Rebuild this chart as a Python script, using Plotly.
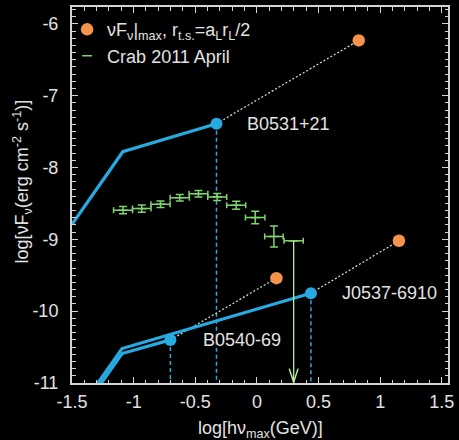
import plotly.graph_objects as go

# --- spectra: log photon energy (GeV) vs log nuFnu, one broken power law per pulsar
crab_spec_x = [-1.5, -1.088, -0.328]
crab_spec_y = [-8.79, -7.78, -7.39]
j0537_spec_x = [-1.372, -1.094, 0.438]
j0537_spec_y = [-11.2, -10.52, -9.75]
b0540_spec_x = [-1.343, -1.094, -0.702]
b0540_spec_y = [-11.2, -10.59, -10.40]

# --- maximum nuFnu for r_t.s. = a_L r_L / 2
pulsar_names = ["B0531+21", "J0537-6910", "B0540-69"]
max_x = [0.826, 1.152, 0.158]
max_y = [-6.23, -9.02, -9.54]

# --- Crab 2011 April flare data
crab_x = [-1.086, -0.934, -0.782, -0.626, -0.474, -0.322, -0.168, -0.014, 0.138, 0.298]
crab_y = [-8.594, -8.572, -8.511, -8.420, -8.364, -8.410, -8.525, -8.697, -8.960, -9.019]
crab_xerr = [0.077, 0.075, 0.078, 0.078, 0.076, 0.077, 0.077, 0.079, 0.075, 0.078]
crab_yerr = [0.05, 0.05, 0.045, 0.045, 0.045, 0.05, 0.055, 0.087, 0.145, 0.0]
crab_upper_limit = [False] * 9 + [True]

# --- axes
x_range = [-1.5, 1.55]
y_range = [-11, -5.765]
x_ticks = [-1.5, -1, -0.5, 0, 0.5, 1, 1.5]
x_ticktext = ["-1.5", "-1", "-0.5", "0", "0.5", "1", "1.5"]
y_ticks = [-11, -10, -9, -8, -7, -6]
y_ticktext = ["-11", "-10", "-9", "-8", "-7", "-6"]

BLUE = "#27aae1"
DASH_BLUE = "#34a9d2"
ORANGE = "#f5924c"
GREEN = "#80d46e"
PALE_GREEN = "#b4ec9e"
DOTTED = "#d5e8c8"
TEXT = "#e2e2e2"
FONT = "Liberation Sans, Arial, sans-serif"

fig = go.Figure()

spectra = [
    (crab_spec_x, crab_spec_y),
    (j0537_spec_x, j0537_spec_y),
    (b0540_spec_x, b0540_spec_y),
]

# vertical dashed drops from each spectral peak to the energy axis
for sx, sy in spectra:
    fig.add_trace(go.Scatter(
        x=[sx[-1], sx[-1]], y=[sy[-1], y_range[0]], mode="lines",
        line=dict(color=DASH_BLUE, width=1.5, dash="4px,3px"),
        showlegend=False, hoverinfo="skip"))

# dotted connectors from each spectral peak to its maximum
for (sx, sy), mx, my in zip(spectra, max_x, max_y):
    fig.add_trace(go.Scatter(
        x=[sx[-1], mx], y=[sy[-1], my], mode="lines",
        line=dict(color=DOTTED, width=1.2, dash="2px,2px"),
        showlegend=False, hoverinfo="skip"))

# broken power-law spectra
for sx, sy in spectra:
    fig.add_trace(go.Scatter(
        x=sx, y=sy, mode="lines",
        line=dict(color=BLUE, width=3.2),
        showlegend=False, hoverinfo="skip"))

# spectral peaks
fig.add_trace(go.Scatter(
    x=[s[0][-1] for s in spectra], y=[s[1][-1] for s in spectra],
    mode="markers", marker=dict(color=BLUE, size=12),
    showlegend=False, hoverinfo="skip"))

# maximum nuFnu points
fig.add_trace(go.Scatter(
    x=max_x, y=max_y, mode="markers",
    marker=dict(color=ORANGE, size=12.5),
    name="νF<sub>ν</sub>|<sub>max</sub>, r<sub>t.s.</sub>=a<sub>L</sub>r<sub>L</sub>/2",
    legendrank=1))

# Crab flare points with energy-bin and flux error bars
fig.add_trace(go.Scatter(
    x=crab_x, y=crab_y, mode="markers",
    marker=dict(symbol="line-ew", size=7, color=GREEN,
                line=dict(color=GREEN, width=1.5)),
    error_x=dict(type="data", array=crab_xerr, color=GREEN, thickness=1.5, width=3),
    error_y=dict(type="data", array=crab_yerr, color=GREEN, thickness=1.5, width=4),
    name="Crab 2011 April", legendrank=2))

# upper limit: drop line ending in an open arrowhead at the axis
for ux, uy, ul in zip(crab_x, crab_y, crab_upper_limit):
    if not ul:
        continue
    fig.add_trace(go.Scatter(
        x=[ux, ux], y=[uy, y_range[0]], mode="lines",
        line=dict(color=PALE_GREEN, width=1.3),
        showlegend=False, hoverinfo="skip"))
    fig.add_trace(go.Scatter(
        x=[ux - 0.036, ux, ux + 0.036], y=[y_range[0] + 0.2, y_range[0] + 0.01, y_range[0] + 0.2],
        mode="lines", line=dict(color=PALE_GREEN, width=1.5),
        showlegend=False, hoverinfo="skip"))

# pulsar names next to their spectral peaks
label_dx = [0.584, 0.634, 0.582]
for name, (sx, sy), dx in zip(pulsar_names, spectra, label_dx):
    fig.add_annotation(x=sx[-1] + dx, y=sy[-1], text=name, showarrow=False,
                       font=dict(size=18, color=TEXT, family=FONT),
                       xanchor="center", yanchor="middle")

# axis titles
fig.add_annotation(xref="paper", yref="paper", x=0.501, y=-0.087,
                   text="log[hν<sub>max</sub>(GeV)]", showarrow=False,
                   font=dict(size=18, color=TEXT, family=FONT),
                   xanchor="center", yanchor="top")
fig.add_annotation(xref="paper", yref="paper", x=-0.131, y=0.535,
                   text="log[νF<sub>ν</sub>(erg cm<sup>-2</sup> s<sup>-1</sup>)]",
                   textangle=-90, showarrow=False,
                   font=dict(size=18, color=TEXT, family=FONT),
                   xanchor="center", yanchor="middle")

axis_common = dict(
    showgrid=False, zeroline=False, showline=True, linecolor="#d4d4d4", linewidth=2,
    mirror="allticks", ticks="inside", ticklen=6, tickwidth=1.2, tickcolor="#d4d4d4",
    tickfont=dict(size=18, color=TEXT, family=FONT),
)

fig.update_layout(
    width=459, height=440,
    margin=dict(l=72, r=6, t=5, b=57),
    paper_bgcolor="black", plot_bgcolor="black",
    font=dict(family=FONT, color=TEXT),
    xaxis=dict(range=x_range, tickmode="array", tickvals=x_ticks, ticktext=x_ticktext,
               minor=dict(dtick=0.1, ticks="inside", ticklen=3.5, tickcolor="#d4d4d4"),
               ticklabelstandoff=1, **axis_common),
    yaxis=dict(range=y_range, tickmode="array", tickvals=y_ticks, ticktext=y_ticktext,
               minor=dict(dtick=0.1, ticks="inside", ticklen=3.5, tickcolor="#d4d4d4"),
               ticklabelstandoff=8, **axis_common),
    legend=dict(x=-0.013, y=0.989, xanchor="left", yanchor="top",
                bgcolor="rgba(0,0,0,0)", font=dict(size=18, color=TEXT, family=FONT),
                itemwidth=30, tracegroupgap=0),
)

fig.write_html("out.html")
